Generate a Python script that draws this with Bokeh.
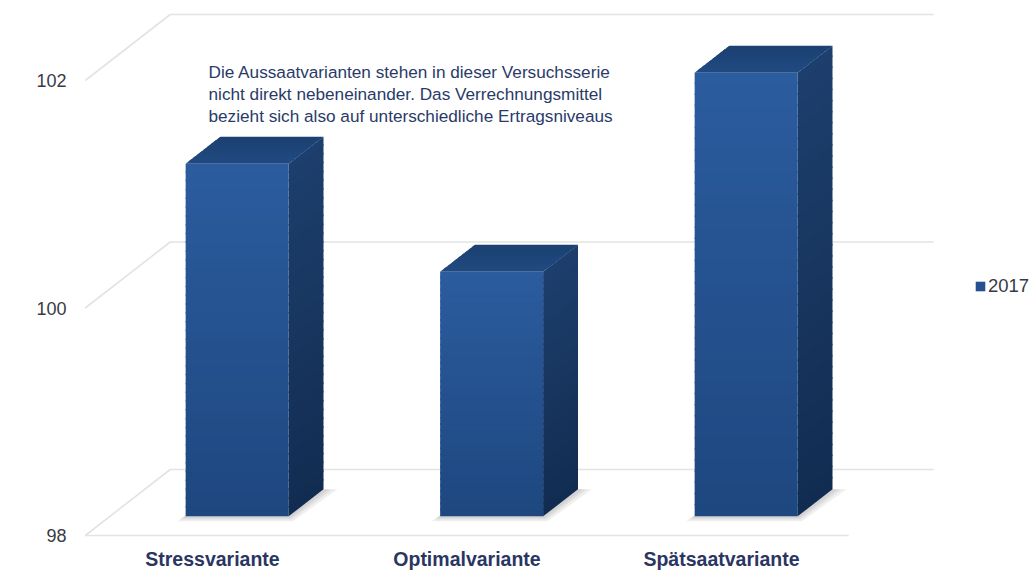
from bokeh.plotting import figure
from bokeh.models import Range1d, FixedTicker, Label, Legend, LegendItem, ColumnDataSource
from bokeh.embed import file_html
from bokeh.resources import INLINE

# ---------------- data ----------------
categories = ["Stressvariante", "Optimalvariante", "Spätsaatvariante"]
series_name = "2017"
values = [101.1, 100.15, 101.9]
y_ticks = [98, 100, 102]
y_base = 98
note_lines = [
    "Die Aussaatvarianten stehen in dieser Versuchsserie",
    "nicht direkt nebeneinander. Das Verrechnungsmittel",
    "bezieht sich also auf unterschiedliche Ertragsniveaus",
]

# ---------------- layout / style ----------------
W, H = 1034, 574
BORDER_L, BORDER_B = 75, 34
FRAME_W, FRAME_H = W - BORDER_L, H - BORDER_B
PX_X = 254.5      # pixels per category step
PX_Y = 113.75     # pixels per value unit
PAGE_FRAME_L = BORDER_L
PAGE_FRAME_B = FRAME_H
CAT0_PX = 212.0
BASE_PX = 535.0

x0 = -(CAT0_PX - PAGE_FRAME_L) / PX_X
x1 = x0 + FRAME_W / PX_X
y0 = y_base - (PAGE_FRAME_B - BASE_PX) / PX_Y
y1 = y0 + FRAME_H / PX_Y

DX = 85 / PX_X     # full depth offset (x)
DY = 66 / PX_Y     # full depth offset (y)
T0, T1 = 0.29, 0.70
BAR_W = 103 / PX_X
NB = 40
OVL_Y = 1.5 / PX_Y

FRONT_TOP, FRONT_BOT = "#2b5c9e", "#1e477f"
SIDE_TOP, SIDE_BOT = "#1d3f6d", "#122c51"
TOP_FRONT, TOP_BACK = "#204a80", "#1b3f70"
GRID = "#e3e3e3"
FONT = "Liberation Sans"


def mix(c1, c2, t):
    a = [int(c1[i:i + 2], 16) for i in (1, 3, 5)]
    b = [int(c2[i:i + 2], 16) for i in (1, 3, 5)]
    return "#%02x%02x%02x" % tuple(round(a[k] + (b[k] - a[k]) * t) for k in range(3))


p = figure(width=W, height=H, x_range=Range1d(x0, x1), y_range=Range1d(y0, y1),
           output_backend="svg", toolbar_location=None,
           min_border_left=BORDER_L, min_border_right=0, min_border_top=0,
           min_border_bottom=BORDER_B)
p.xgrid.visible = False
p.ygrid.visible = False
p.outline_line_color = None
p.background_fill_color = "white"

n = len(categories)
left_edge, right_edge = -0.5, n - 0.5

# walls / grid
gx, gy = [], []
for v in y_ticks:
    gx.append([left_edge, left_edge + DX, right_edge + DX])
    gy.append([v, v + DY, v + DY])
gx.append([left_edge, right_edge])
gy.append([y_base, y_base])
p.multi_line(gx, gy, line_color=GRID, line_width=1.6)

# shadows
sx, sy = [], []
for i, v in enumerate(values):
    xl, xr = i - BAR_W / 2, i + BAR_W / 2
    for e in (14, 9, 5):
        ex = e / PX_X
        ey = e * 0.35 / PX_Y
        sx.append([xl + T0 * DX - ex * 0.6, xr + T0 * DX + ex * 0.3, xr + T1 * DX + ex, xl + T1 * DX])
        sy.append([y_base + T0 * DY - ey, y_base + T0 * DY - ey, y_base + T1 * DY, y_base + T1 * DY])
p.patches(sx, sy, fill_color="#606060", fill_alpha=0.1, line_color=None)

# side faces (gradient strips, overlapping to hide seams)
side = dict(xs=[], ys=[], c=[])
for i, v in enumerate(values):
    xr = i + BAR_W / 2
    for k in range(NB):
        a = y_base + (v - y_base) * k / NB
        b = y_base + (v - y_base) * (k + 1) / NB
        if k < NB - 1:
            b += OVL_Y
        side["xs"].append([xr + T0 * DX, xr + T1 * DX, xr + T1 * DX, xr + T0 * DX])
        side["ys"].append([a + T0 * DY, a + T1 * DY, b + T1 * DY, b + T0 * DY])
        side["c"].append(mix(SIDE_BOT, SIDE_TOP, (k + 0.5) / NB))
p.patches("xs", "ys", source=ColumnDataSource(side), fill_color="c", line_color=None)

# top faces (gradient strips front->back, drawn back to front)
top = dict(xs=[], ys=[], c=[])
NT = 10
for i, v in enumerate(values):
    xl, xr = i - BAR_W / 2, i + BAR_W / 2
    for k in reversed(range(NT)):
        ta = T0 + (T1 - T0) * k / NT
        tb = T0 + (T1 - T0) * (k + 1) / NT
        if k < NT - 1:
            tb += 0.03
        top["xs"].append([xl + ta * DX, xr + ta * DX, xr + tb * DX, xl + tb * DX])
        top["ys"].append([v + ta * DY, v + ta * DY, v + tb * DY, v + tb * DY])
        top["c"].append(mix(TOP_FRONT, TOP_BACK, (k + 0.5) / NT))
p.patches("xs", "ys", source=ColumnDataSource(top), fill_color="c", line_color=None)

# front faces (vertical gradient bands, overlapping)
front = dict(l=[], r=[], b=[], t=[], c=[])
for i, v in enumerate(values):
    xl, xr = i - BAR_W / 2, i + BAR_W / 2
    for k in range(NB):
        a = y_base + (v - y_base) * k / NB
        b = y_base + (v - y_base) * (k + 1) / NB
        if k < NB - 1:
            b += OVL_Y
        front["l"].append(xl + T0 * DX)
        front["r"].append(xr + T0 * DX)
        front["b"].append(a + T0 * DY)
        front["t"].append(b + T0 * DY)
        front["c"].append(mix(FRONT_BOT, FRONT_TOP, (k + 0.5) / NB))
fr = p.quad(left="l", right="r", bottom="b", top="t", source=ColumnDataSource(front),
            fill_color="c", line_color=None)

# axes
p.yaxis.ticker = FixedTicker(ticks=y_ticks)
p.yaxis.axis_line_color = None
p.yaxis.major_tick_line_color = None
p.yaxis.minor_tick_line_color = None
p.yaxis.major_tick_out = 0
p.yaxis.major_tick_in = 0
p.yaxis.major_label_standoff = 9
p.yaxis.major_label_text_font = FONT
p.yaxis.major_label_text_font_size = "18px"
p.yaxis.major_label_text_color = "#3a3a46"

p.xaxis.ticker = FixedTicker(ticks=list(range(n)))
p.xaxis.major_label_overrides = {i: c for i, c in enumerate(categories)}
p.xaxis.axis_line_color = None
p.xaxis.major_tick_line_color = None
p.xaxis.minor_tick_line_color = None
p.xaxis.major_tick_out = 0
p.xaxis.major_tick_in = 0
p.xaxis.major_label_standoff = 7
p.xaxis.major_label_text_font = FONT
p.xaxis.major_label_text_font_style = "bold"
p.xaxis.major_label_text_font_size = "19.5px"
p.xaxis.major_label_text_color = "#2a3562"

# note
note = Label(x=(208 - CAT0_PX) / PX_X, y=y_base + (BASE_PX - 61) / PX_Y,
             text="\n".join(note_lines), text_font=FONT, text_font_size="17.2px",
             text_color="#2a3a68", text_align="left", text_baseline="top",
             text_line_height=1.1)
p.add_layout(note)

# legend
legend = Legend(items=[LegendItem(label=series_name, renderers=[fr], index=NB // 2)],
                location=(974 - PAGE_FRAME_L, PAGE_FRAME_B - 297),
                border_line_color=None, background_fill_alpha=0, padding=0, margin=0,
                glyph_width=12, glyph_height=12, label_standoff=2,
                label_text_font=FONT, label_text_font_size="18.5px",
                label_text_color="#3a3a46")
p.add_layout(legend)

open("out.html", "w").write(file_html(p, INLINE))
